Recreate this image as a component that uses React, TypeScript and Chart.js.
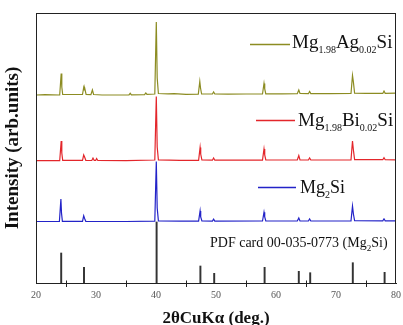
import { useEffect, useRef } from 'react';
import { Chart, registerables } from 'chart.js';

Chart.register(...registerables);

const FONT = "'Liberation Serif', 'Times New Roman', serif";

// 2θ (deg.) and intensity (arb. units, stacked offsets as in the figure)
const agTheta = [20, 21.5, 23.95, 24.2, 24.3, 24.45, 27.75, 27.95, 28.05, 28.15, 28.35, 29.15, 29.4, 29.6, 31, 35.5, 35.7, 35.9, 38.1, 38.3, 38.5, 39.8, 40.05, 40.2, 40.4, 42, 43, 45, 47.05, 47.3, 47.42, 47.6, 49.4, 49.6, 49.8, 52, 55, 57.75, 58.0, 58.12, 58.3, 61, 63.55, 63.8, 64.0, 65.4, 65.6, 65.8, 69, 72.5, 72.75, 72.9, 73.1, 75, 77.8, 78.0, 78.2, 80];
const agIntensity = [188, 188.3, 188, 209.5, 196, 188.5, 188.5, 195.5, 193, 194, 188.5, 188.3, 193, 188.5, 188, 188.2, 189.7, 188.2, 188.4, 190, 188.6, 189, 261, 205, 189.5, 189.2, 189.3, 188.7, 188.8, 201.5, 195, 189, 189, 191, 189, 188.8, 189, 189, 199.5, 194, 189.2, 189.2, 189.3, 193, 189.5, 189.3, 191.5, 189.4, 189.4, 189.5, 207.5, 201, 189.8, 189.6, 189.6, 192, 189.7, 189.8];

const biTheta = [20, 23.95, 24.2, 24.3, 24.45, 27.75, 27.95, 28.1, 28.3, 29.3, 29.5, 29.7, 29.95, 30.1, 30.3, 35, 39.8, 40.05, 40.2, 40.4, 44, 47.1, 47.35, 47.45, 47.65, 49.4, 49.6, 49.8, 55, 57.75, 58.0, 58.12, 58.3, 63.55, 63.8, 64.0, 65.4, 65.6, 65.8, 72.5, 72.75, 72.9, 73.1, 77.8, 78.0, 78.2, 80];
const biIntensity = [122.3, 122.3, 142, 130, 122.6, 122.6, 128, 126, 122.7, 122.5, 125, 122.6, 122.6, 124.5, 122.5, 122.4, 123, 186.5, 136, 123.2, 122.6, 122.7, 135.5, 129, 123, 122.8, 125, 122.8, 122.8, 122.9, 134, 128, 123, 123, 127.5, 123.1, 123, 125, 123, 123.2, 142, 133, 123.4, 123.3, 125.3, 123.3, 123.2];

const mgTheta = [20, 23.9, 24.15, 24.25, 24.4, 27.75, 27.95, 28.1, 28.3, 35, 39.8, 40.05, 40.2, 40.4, 44, 47.1, 47.35, 47.45, 47.65, 49.4, 49.6, 49.8, 57.75, 58.0, 58.12, 58.3, 63.55, 63.8, 64.0, 65.4, 65.6, 65.8, 72.5, 72.75, 72.9, 73.1, 77.8, 78.0, 78.2, 80];
const mgIntensity = [61.5, 61.5, 84, 70, 61.7, 61.6, 67.2, 64.5, 61.7, 61.5, 61.8, 121.5, 75, 62.2, 61.8, 61.8, 72, 66, 62, 61.9, 63.9, 61.9, 62, 70.7, 66, 62, 62, 65, 62.1, 62, 64, 62, 62.2, 76.9, 69, 62.3, 62.2, 64.2, 62.2, 62.2];

// PDF card 00-035-0773 reference lines
const pdfTheta = [24.2, 28.0, 40.1, 47.4, 49.7, 58.1, 63.8, 65.7, 72.8, 78.1];
const pdfIntensity = [30, 15.7, 61, 17, 9.7, 15.7, 11.7, 10.3, 20.3, 10.7];

const xMajorTicks = [20, 30, 40, 50, 60, 70, 80];
const xMinorTicks = [25, 35, 45, 55, 65, 75];

const seriesColors = { ag: '#8c8c22', bi: '#e3262b', mg: '#2323c8', pdf: '#333333' };

// legend labels: [text, isSubscript]
const agLabel: [string, boolean][] = [['Mg', false], ['1.98', true], ['Ag', false], ['0.02', true], ['Si', false]];
const biLabel: [string, boolean][] = [['Mg', false], ['1.98', true], ['Bi', false], ['0.02', true], ['Si', false]];
const mgLabel: [string, boolean][] = [['Mg', false], ['2', true], ['Si', false]];
const pdfLabel: [string, boolean][] = [['PDF card 00-035-0773 (Mg', false], ['2', true], ['Si)', false]];

function toPoints(xs: number[], ys: number[]) {
  return xs.map((x, i) => ({ x, y: ys[i] }));
}

function drawRich(ctx: CanvasRenderingContext2D, x: number, y: number, parts: [string, boolean][], size: number, subSize: number) {
  let cx = x;
  ctx.textBaseline = 'alphabetic';
  ctx.textAlign = 'left';
  for (const [t, sub] of parts) {
    ctx.font = `${sub ? subSize : size}px ${FONT}`;
    ctx.fillText(t, cx, sub ? y + subSize * 0.45 : y);
    cx += ctx.measureText(t).width;
  }
}

const overlayPlugin = {
  id: 'overlay',
  afterDraw(chart: any) {
    const { ctx, chartArea } = chart;
    const { left, right, top, bottom } = chartArea;
    const xs = chart.scales.x;
    ctx.save();
    // frame
    ctx.strokeStyle = '#222';
    ctx.lineWidth = 1;
    ctx.strokeRect(left + 0.5, top + 0.5, right - left - 1, bottom - top);
    // minor ticks (inward)
    ctx.beginPath();
    for (const v of xMinorTicks) {
      const px = Math.round(xs.getPixelForValue(v)) + 0.5;
      ctx.moveTo(px, bottom);
      ctx.lineTo(px, bottom - 2.5);
    }
    ctx.stroke();

    // legend entries
    const items: { color: string; x0: number; x1: number; y: number; tx: number; ty: number; label: [string, boolean][]; size: number }[] = [
      { color: seriesColors.ag, x0: left + 214, x1: left + 254, y: top + 31, tx: left + 256, ty: top + 35, label: agLabel, size: 19 },
      { color: seriesColors.bi, x0: left + 220, x1: left + 259, y: top + 107, tx: left + 262, ty: top + 113, label: biLabel, size: 19 },
      { color: seriesColors.mg, x0: left + 222, x1: left + 260, y: top + 174, tx: left + 264, ty: top + 180, label: mgLabel, size: 18 },
    ];
    for (const it of items) {
      ctx.strokeStyle = it.color;
      ctx.lineWidth = 1.5;
      ctx.beginPath();
      ctx.moveTo(it.x0, it.y + 0.5);
      ctx.lineTo(it.x1, it.y + 0.5);
      ctx.stroke();
      ctx.fillStyle = '#111';
      drawRich(ctx, it.tx, it.ty, it.label, it.size, 10);
    }
    ctx.fillStyle = '#111';
    drawRich(ctx, left + 174, top + 234, pdfLabel, 14, 9);
    ctx.restore();
  },
};

export default function App() {
  const ref = useRef<HTMLCanvasElement | null>(null);

  useEffect(() => {
    if (!ref.current) return;
    const chart = new Chart(ref.current, {
      type: 'line',
      data: {
        datasets: [
          {
            type: 'line',
            label: 'Mg1.98Ag0.02Si',
            data: toPoints(agTheta, agIntensity),
            borderColor: seriesColors.ag,
            borderWidth: 1.2,
            pointRadius: 0,
            tension: 0,
          },
          {
            type: 'line',
            label: 'Mg1.98Bi0.02Si',
            data: toPoints(biTheta, biIntensity),
            borderColor: seriesColors.bi,
            borderWidth: 1.2,
            pointRadius: 0,
            tension: 0,
          },
          {
            type: 'line',
            label: 'Mg2Si',
            data: toPoints(mgTheta, mgIntensity),
            borderColor: seriesColors.mg,
            borderWidth: 1.2,
            pointRadius: 0,
            tension: 0,
          },
          {
            type: 'bar',
            label: 'PDF card 00-035-0773',
            data: toPoints(pdfTheta, pdfIntensity),
            backgroundColor: seriesColors.pdf,
            barThickness: 1.3,
            grouped: false,
            order: 5,
          } as any,
        ],
      },
      options: {
        animation: false,
        responsive: false,
        devicePixelRatio: 1,
        layout: { padding: { top: 13, right: 4, left: 0, bottom: 0 } },
        plugins: { legend: { display: false }, tooltip: { enabled: false } },
        scales: {
          x: {
            type: 'linear',
            min: 20,
            max: 80,
            offset: false,
            afterFit: (s: any) => { s.height = 42; },
            afterBuildTicks: (s: any) => { s.ticks = xMajorTicks.map((v) => ({ value: v })); },
            ticks: { font: { family: FONT, size: 10 }, color: '#555', padding: 2, maxRotation: 0 },
            grid: { display: true, drawOnChartArea: false, drawTicks: true, tickLength: 4, color: '#222' },
            border: { display: true, color: '#222', width: 1 },
            title: {
              display: true,
              text: '2θCuKα (deg.)',
              font: { family: FONT, size: 17, weight: 'bold', lineHeight: 1 },
              color: '#111',
              padding: { top: 0, bottom: -2 },
            },
          },
          y: {
            type: 'linear',
            min: 0,
            max: 270,
            afterFit: (s: any) => { s.width = 36; },
            ticks: { display: false },
            grid: { display: false, drawTicks: false },
            border: { display: false },
            title: {
              display: true,
              text: 'Intensity (arb.units)',
              font: { family: FONT, size: 19, weight: 'bold' },
              color: '#111',
              padding: { top: 2, bottom: 0 },
            },
          },
        },
      },
      plugins: [overlayPlugin],
    });
    return () => chart.destroy();
  }, []);

  return (
    <div style={{ position: 'absolute', left: 0, top: 0, width: 403, height: 325, background: '#fff' }}>
      <canvas ref={ref} width={403} height={325} style={{ display: 'block' }} />
    </div>
  );
}
